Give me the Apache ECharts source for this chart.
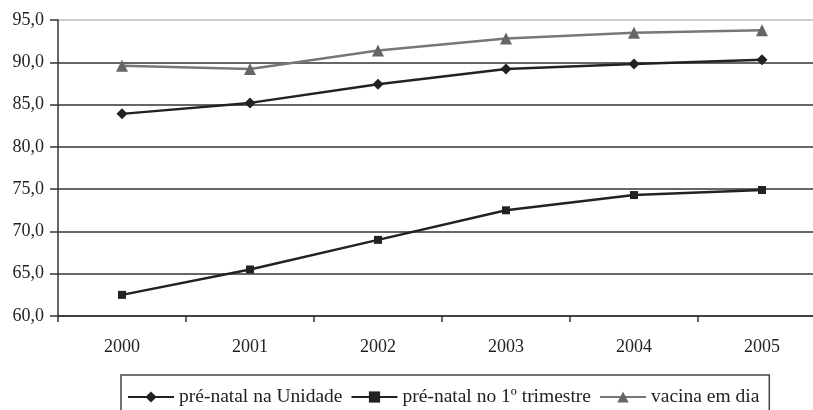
<!DOCTYPE html>
<html><head><meta charset="utf-8">
<script src="https://cdn.jsdelivr.net/npm/echarts@6/dist/echarts.min.js"></script>
<style>html,body{margin:0;padding:0;background:#fff}#c{width:813px;height:410px}</style>
</head><body><div id="c"></div>
<script>
const years = ['2000','2001','2002','2003','2004','2005'];
const preNatalUnidade = [83.9, 85.2, 87.4, 89.2, 89.8, 90.3];
const preNatalTrimestre = [62.5, 65.5, 69.0, 72.5, 74.3, 74.9];
const vacinaEmDia = [89.6, 89.2, 91.4, 92.8, 93.5, 93.8];
const seriesNames = ['pré-natal na Unidade', 'pré-natal no 1º trimestre', 'vacina em dia'];

const font = 'Liberation Serif';
const chart = echarts.init(document.getElementById('c'));
chart.setOption({
  animation: false,
  backgroundColor: '#fff',
  grid: {left: 58, top: 20, height: 296, width: 768, outerBoundsMode: 'none', containLabel: false},
  legend: {
    data: seriesNames,
    top: 375,
    left: 121,
    padding: [12, 10, 30, 6],
    borderColor: '#444',
    borderWidth: 1.5,
    itemWidth: 46,
    itemHeight: 14,
    itemGap: 8,
    textStyle: {fontFamily: font, fontSize: 19.5, color: '#222'}
  },
  xAxis: {
    type: 'category',
    data: years,
    boundaryGap: true,
    axisLine: {lineStyle: {color: '#333', width: 1.5}},
    axisTick: {show: true, length: 6, lineStyle: {color: '#333', width: 1.5}},
    axisLabel: {fontFamily: font, fontSize: 18, color: '#222', margin: 22}
  },
  yAxis: {
    type: 'value',
    min: 60, max: 95, interval: 5,
    axisLine: {show: true, lineStyle: {color: '#333', width: 1.5}},
    axisTick: {show: true, length: 8, lineStyle: {color: '#333', width: 1.5}},
    axisLabel: {fontFamily: font, fontSize: 18, color: '#222', margin: 14,
      formatter: v => v.toFixed(1).replace('.', ',')},
    splitLine: {lineStyle: {color: ['#333','#333','#333','#333','#333','#333','#333','#bbb'], width: 1.5}}
  },
  series: [
    {name: seriesNames[0], type: 'line', data: preNatalUnidade, symbol: 'diamond', symbolSize: 11,
      lineStyle: {color: '#222', width: 2.5}, itemStyle: {color: '#222'}},
    {name: seriesNames[1], type: 'line', data: preNatalTrimestre, symbol: 'rect', symbolSize: 8,
      lineStyle: {color: '#222', width: 2.5}, itemStyle: {color: '#222'}},
    {name: seriesNames[2], type: 'line', data: vacinaEmDia, symbol: 'triangle', symbolSize: 12,
      lineStyle: {color: '#777', width: 2.5}, itemStyle: {color: '#666'}}
  ]
});
</script></body></html>
